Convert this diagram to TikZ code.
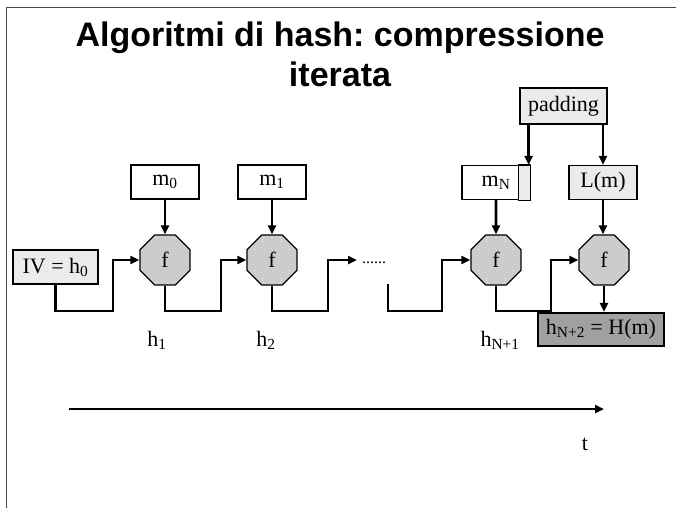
\documentclass[tikz,border=0pt]{standalone}
\usepackage{fontspec}
\setmainfont{Liberation Serif}
\newfontfamily\titlefont{Liberation Sans}
\usepackage{tikz}
\usetikzlibrary{
  shapes.geometric, arrows.meta, positioning, calc
}
\frenchspacing
\definecolor{lightbox}{gray}{0.92}
\definecolor{octgray}{gray}{0.80}
\definecolor{darkbox}{gray}{0.63}
\tikzstyle{blockbox} = [
  rectangle, draw, line width=1.2pt, fill=white,
  minimum width=68pt, minimum height=34pt, inner sep=0pt,
  font=\fontsize{22}{24}\selectfont
]
\tikzstyle{fbox} = [
  regular polygon, regular polygon sides=8, draw, line width=1.2pt,
  fill=octgray, minimum size=54pt, inner sep=0pt,
  font=\fontsize{22}{24}\selectfont
]
\tikzstyle{wire} = [-{Triangle[length=9pt, width=8pt]}, line width=2.6pt]
\tikzstyle{hlabel} = [font=\fontsize{22}{24}\selectfont]
\tikzstyle{titletext} = [font=\titlefont\bfseries\fontsize{34}{40}\selectfont, anchor=base]

\begin{document}
\begin{tikzpicture}[x=1pt, y=-1pt]
  \useasboundingbox (0,0) rectangle (676,514);
  \draw[black!70, line width=1pt] (676,7) -- (6,7) -- (6,508);

  \node[titletext] (title1) at (340,46) {Algoritmi di hash: compressione};
  \node[titletext] (title2) at (340,86) {iterata};

  \node[blockbox, fill=lightbox, minimum width=87pt, minimum height=36pt] (pad) at (563.5,106) {padding};
  \node[blockbox] (m0) at (165,182) {m\textsubscript{0}};
  \node[blockbox] (m1) at (272,182) {m\textsubscript{1}};
  \node[blockbox] (mN) at (496,182.5) {m\textsubscript{N}};
  \filldraw[fill=lightbox, line width=1.2pt] ([xshift=-12pt]mN.north east) rectangle (mN.south east);
  \node[blockbox, fill=lightbox] (lm) at (603,182.5) {L(m)};

  \node[blockbox, fill=lightbox, minimum width=85pt] (iv) at (55.5,267) {IV = h\textsubscript{0}};
  \node[fbox] (f1) at (165,260) {f};
  \node[fbox] (f2) at (272,260) {f};
  \node[fbox] (f3) at (496,260) {f};
  \node[fbox] (f4) at (604,260) {f};
  \node[blockbox, fill=darkbox, line width=2.2pt, minimum width=126pt, minimum height=33pt] (hout) at (601,329.5) {h\textsubscript{N+2} = H(m)};

  % message blocks into f
  \draw[wire] (m0) -- (f1);
  \draw[wire] (m1) -- (f2);
  \draw[wire] (mN) -- (f3);
  \draw[wire] (lm.south) -- (lm.south |- f4.north);
  \draw[wire] (f4.south) -- (f4.south |- hout.north);

  % padding
  \coordinate (padL) at ([xshift=-2pt]mN.north east);
  \draw[wire] (pad.south -| padL) -- (padL);
  \draw[wire] (pad.south -| lm.north) -- (lm.north);

  % chaining values
  \foreach \a/\b/\x in {iv/f1/113, f1/f2/221, f3/f4/551}
    \draw[wire] (\a.south) |- (\x,311) |- (\b.west);
  \coordinate (dotsin) at (357,260);
  \draw[wire] (f2.south) |- (328,311) |- (dotsin);
  \node[anchor=base west, inner sep=0pt, font=\fontsize{16}{16}\selectfont] (dots) at (362,263) {......};
  \coordinate (gapstart) at (388,284);
  \draw[wire] (gapstart) |- (442,311) |- (f3.west);

  \node[hlabel] (h1) at (157,340) {h\textsubscript{1}};
  \node[hlabel] (h2) at (266,340) {h\textsubscript{2}};
  \node[hlabel] (hN1) at (500,340) {h\textsubscript{N+1}};

  % time axis
  \coordinate (tstart) at (69,409);
  \coordinate (tend) at (604,409);
  \draw[wire] (tstart) -- (tend);
  \node[hlabel] (tlab) at (585,444) {t};

\end{tikzpicture}
\end{document}
